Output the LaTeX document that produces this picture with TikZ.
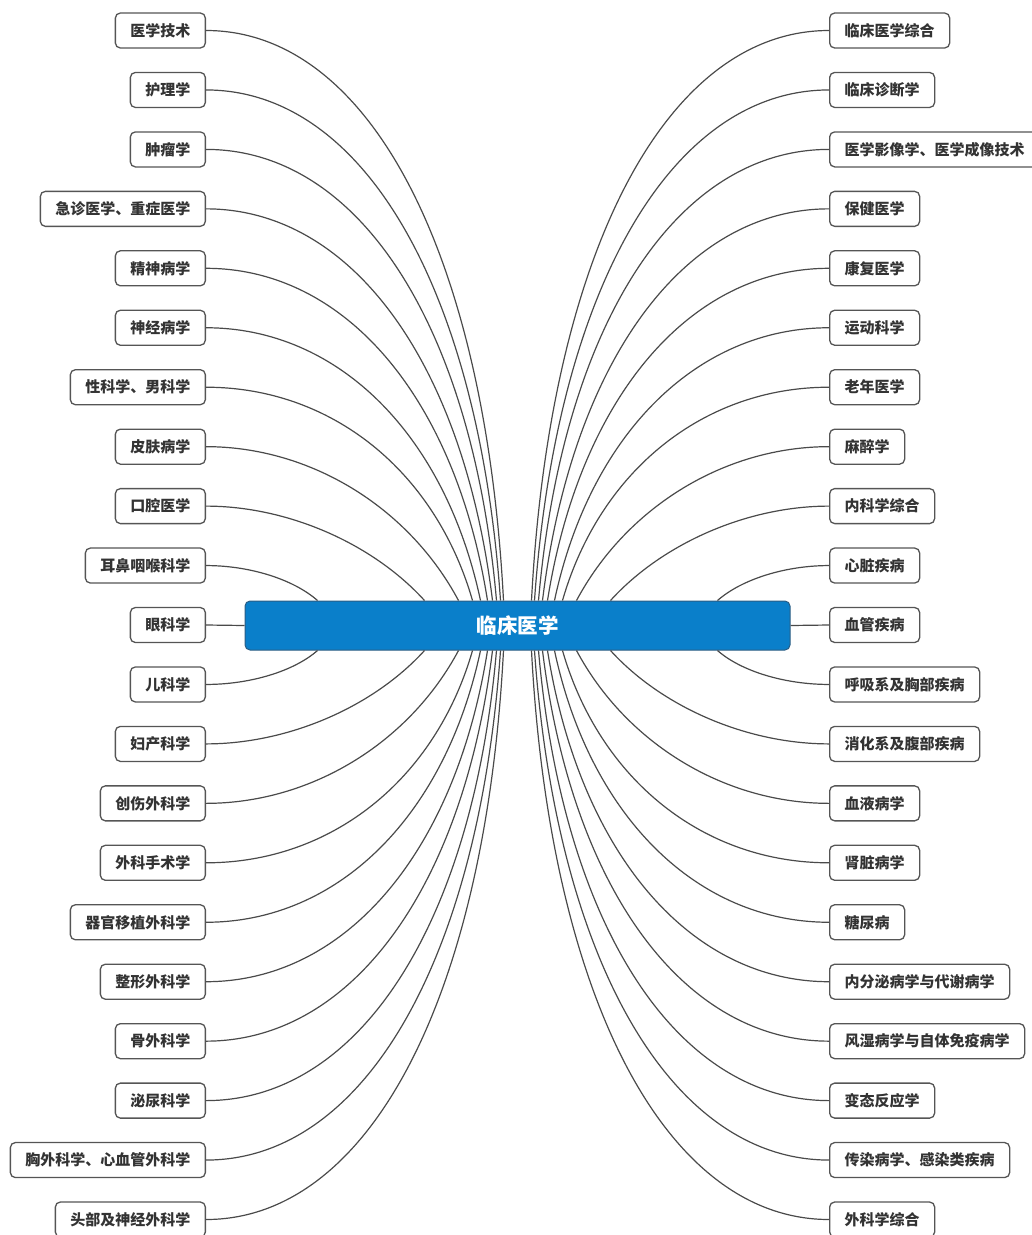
\documentclass[tikz,border=0pt]{standalone}
\usepackage{fontspec}
\setmainfont{Noto Sans CJK SC}
\usetikzlibrary{calc}
\definecolor{rootfill}{HTML}{0A7FCA}
\definecolor{rootedge}{HTML}{2B5D84}
\definecolor{edgec}{HTML}{555555}
\definecolor{linec}{HTML}{4A4A4A}
\definecolor{textc}{HTML}{333333}
\begin{document}
\begin{tikzpicture}[x=1pt,y=-1pt,
  leaf/.style={draw=edgec, line width=1.3pt, rounded corners=5pt, fill=white,
    minimum height=35pt, inner xsep=15pt, inner ysep=0pt,
    font=\fontsize{15}{16}\selectfont\bfseries, text=textc},
  rootnode/.style={draw=rootedge, line width=1pt, rounded corners=5pt, fill=rootfill,
    minimum width=545pt, minimum height=49pt, inner sep=0pt,
    font=\fontsize{20.5}{22}\selectfont\bfseries, text=white},
  conn/.style={draw=linec, line width=1.2pt}]
\useasboundingbox (0,0) rectangle (1032,1235);
\node[rootnode] (root) at (517.5,625.5) {临床医学};
\foreach \t [count=\i] in {医学技术,护理学,肿瘤学,急诊医学、重症医学,精神病学,神经病学,性科学、男科学,皮肤病学,口腔医学,耳鼻咽喉科学,眼科学,儿科学,妇产科学,创伤外科学,外科手术学,器官移植外科学,整形外科学,骨外科学,泌尿科学,胸外科学、心血管外科学,头部及神经外科学}
  \node[leaf, anchor=east] (L\i) at (206,{30.5+59.45*(\i-1)}) {\t};
\foreach \t [count=\i] in {临床医学综合,临床诊断学,医学影像学、医学成像技术,保健医学,康复医学,运动科学,老年医学,麻醉学,内科学综合,心脏疾病,血管疾病,呼吸系及胸部疾病,消化系及腹部疾病,血液病学,肾脏病学,糖尿病,内分泌病学与代谢病学,风湿病学与自体免疫病学,变态反应学,传染病学、感染类疾病,外科学综合}
  \node[leaf, anchor=west] (R\i) at (829,{30.5+59.45*(\i-1)}) {\t};
\def\offs{{0,200,93,59,45,37,30,25,21,17,14}}
\def\angs{{0,42,48,62,74,78,81,83,85,86,87}}
\def\kk{0.61}
\foreach \i in {1,...,21} {
  \pgfmathtruncatemacro\d{abs(\i-11)}
  \ifnum\d>0
    \pgfmathsetmacro\o{\offs[\d]}
    \pgfmathsetmacro\a{\angs[\d]}
    \pgfmathsetmacro\yl{30.5+59.45*(\i-1)}
    \pgfmathsetmacro\ye{\i<11 ? 601 : 650}
    \pgfmathsetmacro\cx{517.5-\o-abs(\yl-\ye)/tan(\a)}
    % left side control points
    \pgfmathsetmacro\lax{206+\kk*(\cx-206)}
    \pgfmathsetmacro\lbx{(517.5-\o)+\kk*(\cx-(517.5-\o))}
    \pgfmathsetmacro\lby{\ye+\kk*(\yl-\ye)}
    % right side (mirror about 517.5)
    \pgfmathsetmacro\rax{1035-\lax}
    \pgfmathsetmacro\rbx{1035-\lbx}
    \ifnum\i<11
      \draw[conn] (L\i.east) .. controls (\lax,\yl) and (\lbx,\lby) .. ([xshift=-\o pt]root.north);
      \draw[conn] (R\i.west) .. controls (\rax,\yl) and (\rbx,\lby) .. ([xshift=\o pt]root.north);
    \else
      \draw[conn] (L\i.east) .. controls (\lax,\yl) and (\lbx,\lby) .. ([xshift=-\o pt]root.south);
      \draw[conn] (R\i.west) .. controls (\rax,\yl) and (\rbx,\lby) .. ([xshift=\o pt]root.south);
    \fi
  \else
    \draw[conn] (L\i.east) -- (root.west);
    \draw[conn] (R\i.west) -- (root.east);
  \fi
}
\end{tikzpicture}
\end{document}
